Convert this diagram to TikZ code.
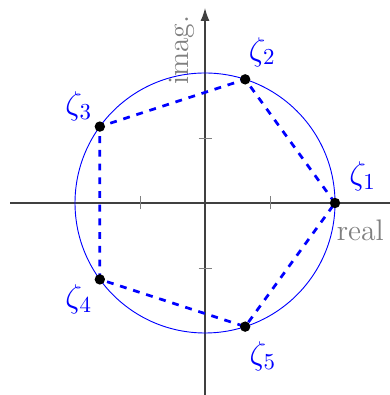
\documentclass[tikz,border=0pt]{standalone}
\usepackage{amsmath}
\usetikzlibrary{arrows.meta, positioning}
\definecolor{axisgray}{HTML}{404040}
\definecolor{labelgray}{HTML}{808080}
\definecolor{rootblue}{HTML}{0000FF}

\begin{document}
\begin{tikzpicture}[
  rootdot/.style={circle, fill=black, inner sep=0pt, minimum size=0.16cm},
  rootlabel/.style={font=\Large, text=rootblue, inner sep=1pt},
  axislabel/.style={text=labelgray, font=\fontsize{13}{15}\selectfont}]
  \useasboundingbox (-3.154,-2.954) rectangle (2.831,3.123);
  \draw[axisgray, semithick] (-3,0) -- (3,0);
  \draw[axisgray, semithick, -{Latex[length=2mm, width=1.4mm]}] (0,-3) -- (0,3);
  \foreach \t in {-1,1}{
    \draw[labelgray] (\t,-0.1) -- (\t,0.1);
    \draw[labelgray] (-0.1,\t) -- (0.1,\t);
  }
  \node[axislabel] (reallabel) at (2.39,-0.42) {real};
  \node[axislabel, rotate=90] (imaglabel) at (-0.35,2.35) {imag.};
  \draw[rootblue] (0,0) circle (2);
  \foreach \k in {1,...,5}{
    \coordinate (c\k) at ({72*(\k-1)}:2);
  }
  \draw[rootblue, very thick, dashed] (c1) -- (c2) -- (c3) -- (c4) -- (c5) -- cycle;
  \node[rootdot, label={[rootlabel, label distance=4pt]38:$\zeta_1$}] (z1) at (c1) {};
  \node[rootdot, label={[rootlabel, label distance=2pt]84:$\zeta_2$}] (z2) at (c2) {};
  \node[rootdot, label={[rootlabel]152:$\zeta_3$}] (z3) at (c3) {};
  \node[rootdot, label={[rootlabel]208:$\zeta_4$}] (z4) at (c4) {};
  \node[rootdot, label={[rootlabel, label distance=3pt]278:$\zeta_5$}] (z5) at (c5) {};
\end{tikzpicture}
\end{document}
